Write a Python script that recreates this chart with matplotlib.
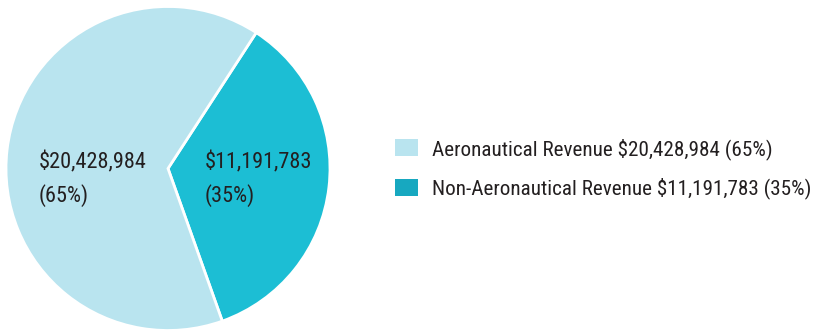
import matplotlib
matplotlib.use("Agg")
import matplotlib.pyplot as plt
from matplotlib.patches import Patch

# revenue split
labels = ["Aeronautical Revenue", "Non-Aeronautical Revenue"]
amounts = [20428984, 11191783]
shares = [65, 35]
colors = ["#B9E4EF", "#1CBED4"]
legend_colors = ["#B9E4EF", "#17A8C0"]

plt.rcParams["font.family"] = ["Liberation Sans Narrow", "DejaVu Sans Condensed",
                               "Roboto Condensed", "DejaVu Sans"]
text_color = "#231F20"

fig = plt.figure(figsize=(8.13, 3.31), dpi=100)
ax = fig.add_axes([6 / 813, 0.5 / 331, 324 / 813, 324 / 331])

# draw the non-aero slice first so it starts at the upper right going clockwise
order = [1, 0]
ax.pie([amounts[i] for i in order], colors=[colors[i] for i in order],
       startangle=57, counterclock=False,
       wedgeprops=dict(edgecolor="white", linewidth=2))
ax.set_xlim(-1.0, 1.0)
ax.set_ylim(-1.0, 1.0)
ax.set_aspect("equal")

label_pos = [(-0.80, 0.04), (0.225, 0.04)]
for (x, y), amt, sh in zip(label_pos, amounts, shares):
    ax.text(x, y, "${:,}".format(amt), fontsize=16, color=text_color,
            ha="left", va="center")
    ax.text(x, y - 0.205, "({}%)".format(sh), fontsize=16, color=text_color,
            ha="left", va="center")

handles = [Patch(facecolor=c, edgecolor="none") for c in legend_colors]
names = ["{} ${:,} ({}%)".format(l, a, s) for l, a, s in zip(labels, amounts, shares)]
fig.legend(handles, names, loc="center left", bbox_to_anchor=(395 / 813, 0.49),
           frameon=False, fontsize=15.2, labelcolor=text_color,
           borderpad=0, borderaxespad=0,
           handlelength=1.07, handleheight=0.87, handletextpad=0.66,
           labelspacing=0.85)

fig.savefig("out.png", dpi=100)
